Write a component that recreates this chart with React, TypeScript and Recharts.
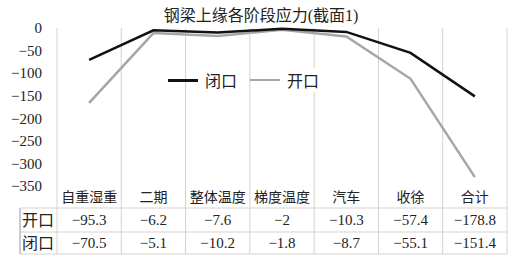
import { LineChart, Line, XAxis, YAxis, CartesianGrid } from "recharts";

const categories = ["自重湿重", "二期", "整体温度", "梯度温度", "汽车", "收徐", "合计"];
const kaikou = [-95.3, -6.2, -7.6, -2, -10.3, -57.4, -178.8];
const bikou = [-70.5, -5.1, -10.2, -1.8, -8.7, -55.1, -151.4];
const yTicks = [0, -50, -100, -150, -200, -250, -300, -350];

// Excel stacked line: 开口 is drawn on top of 闭口
const data = categories.map((name, i) => ({
  name,
  bikou: bikou[i],
  kaikouStack: Math.round((bikou[i] + kaikou[i]) * 10) / 10,
}));

const FONT = '"Liberation Serif", "Noto Sans CJK SC", serif';
const GRID = "#d9d1cd";
const PLOT_LEFT = 57;
const PLOT_W = 450;
const PLOT_BOTTOM = 186;
const BW = PLOT_W / categories.length;
const ROWS = [208, 232, 254];

const fmt = (v: number) => (v < 0 ? "\u2212" + Math.abs(v) : String(v));

function TableTick(props: any) {
  const { x, index, payload } = props;
  const left = x - BW / 2;
  return (
    <g>
      {index === 0 && (
        <g>
          {ROWS.map((y) => (
            <line key={y} x1={20} x2={PLOT_LEFT + PLOT_W} y1={y} y2={y} stroke={GRID} />
          ))}
          <line x1={20} x2={20} y1={ROWS[0]} y2={ROWS[2]} stroke="#999" />
          <text x={38} y={226} textAnchor="middle" fontSize={16} fill="#222" fontFamily={FONT}>开口</text>
          <text x={38} y={249} textAnchor="middle" fontSize={16} fill="#222" fontFamily={FONT}>闭口</text>
        </g>
      )}
      <line x1={left} x2={left} y1={PLOT_BOTTOM} y2={ROWS[2]} stroke={GRID} />
      {index === categories.length - 1 && (
        <line x1={left + BW} x2={left + BW} y1={PLOT_BOTTOM} y2={ROWS[2]} stroke={GRID} />
      )}
      <text x={x} y={202} textAnchor="middle" fontSize={14} fill="#222" fontFamily={FONT}>
        {payload.value}
      </text>
      <text x={x} y={225} textAnchor="middle" fontSize={15} fill="#222" fontFamily={FONT}>
        {fmt(kaikou[index])}
      </text>
      <text x={x} y={248} textAnchor="middle" fontSize={15} fill="#222" fontFamily={FONT}>
        {fmt(bikou[index])}
      </text>
    </g>
  );
}

const legendItems = [
  { label: "闭口", color: "#111", h: 3 },
  { label: "开口", color: "#a6a6a6", h: 2.5 },
];

export default function App() {
  return (
    <div style={{ position: "relative", width: 514, height: 258, background: "#fff" }}>
      <style>{`body{margin:0}`}</style>
      <div
        style={{
          position: "absolute",
          top: 2,
          left: 0,
          width: 522,
          textAlign: "center",
          fontFamily: FONT,
          fontSize: 16,
          color: "#222",
          zIndex: 1,
        }}
      >
        钢梁上缘各阶段应力(截面1)
      </div>
      <div
        style={{
          position: "absolute",
          top: 68,
          left: 168,
          display: "flex",
          alignItems: "center",
          fontFamily: FONT,
          fontSize: 16,
          color: "#222",
          zIndex: 1,
        }}
      >
        {legendItems.map((it) => (
          <div key={it.label} style={{ display: "flex", alignItems: "center", marginRight: 13 }}>
            <div style={{ width: 30, height: it.h, background: it.color, marginRight: 7 }} />
            <span style={{ background: "#fff" }}>{it.label}</span>
          </div>
        ))}
      </div>
      <LineChart
        width={514}
        height={258}
        data={data}
        margin={{ top: 28, right: 7, bottom: 0, left: 0 }}
      >
        <CartesianGrid
          horizontal={false}
          stroke={GRID}
          verticalCoordinatesGenerator={({ offset }: any) =>
            categories.map((_, i) => offset.left + (i * offset.width) / categories.length).concat([offset.left + offset.width])
          }
        />
        <XAxis
          dataKey="name"
          height={72}
          interval={0}
          padding={{ left: BW / 2, right: BW / 2 }}
          tickLine={false}
          axisLine={false}
          tick={<TableTick />}
        />
        <YAxis
          width={57}
          domain={[-350, 0]}
          ticks={yTicks}
          interval={0}
          tickFormatter={fmt}
          tickLine={false}
          axisLine={false}
          tickMargin={9}
          tick={{ fontSize: 15, fill: "#222", fontFamily: FONT }}
        />
        <Line
          type="linear"
          dataKey="kaikouStack"
          name="开口"
          stroke="#a6a6a6"
          strokeWidth={2.5}
          dot={false}
          isAnimationActive={false}
        />
        <Line
          type="linear"
          dataKey="bikou"
          name="闭口"
          stroke="#111"
          strokeWidth={2.5}
          dot={false}
          isAnimationActive={false}
        />
      </LineChart>
    </div>
  );
}
